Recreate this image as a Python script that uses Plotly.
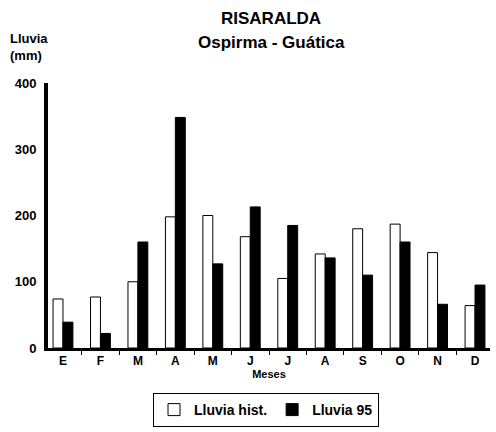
import plotly.graph_objects as go

meses = ["E", "F", "M", "A", "M ", "J", "J ", "A ", "S", "O", "N", "D"]
lluvia_hist = [74, 77, 100, 198, 200, 168, 105, 142, 180, 187, 144, 64]
lluvia_95 = [39, 22, 160, 348, 127, 213, 185, 136, 110, 160, 66, 95]
y_ticks = [0, 100, 200, 300, 400]

FONT = "Arial, Liberation Sans, sans-serif"

fig = go.Figure()
fig.add_trace(go.Bar(
    x=meses, y=lluvia_hist, name="<b>Lluvia hist.</b>",
    marker=dict(color="white", line=dict(color="black", width=1)),
))
fig.add_trace(go.Bar(
    x=meses, y=lluvia_95, name="<b>Lluvia 95</b>",
    marker=dict(color="black", line=dict(color="black", width=1)),
))

fig.update_layout(
    width=496, height=432,
    margin=dict(l=48, r=6, t=83, b=84, autoexpand=False),
    paper_bgcolor="white", plot_bgcolor="white",
    barmode="group", bargap=0.47, bargroupgap=0,
    font=dict(family=FONT, color="black"),
    showlegend=True,
    legend=dict(
        orientation="h", xref="container", yref="container",
        x=266 / 496, xanchor="center", y=1 - 393 / 432, yanchor="top",
        bordercolor="black", borderwidth=1, bgcolor="white",
        font=dict(size=14, family=FONT, color="black"),
        traceorder="normal",
    ),
    xaxis=dict(
        range=[-0.4, 11.4], automargin=False,
        showline=True, linecolor="black", linewidth=3,
        ticks="outside", tickson="boundaries", ticklen=4, tickcolor="black",
        tickfont=dict(size=12, family=FONT),
        tickvals=meses, ticktext=["<b>%s</b>" % m.strip() for m in meses],
        showgrid=False, zeroline=False,
        title=dict(text="<b>Meses</b>", font=dict(size=11, family=FONT), standoff=0),
    ),
    yaxis=dict(
        range=[0, 400], automargin=False,
        showline=True, linecolor="black", linewidth=4,
        tickvals=y_ticks, ticktext=["<b>%d</b>" % v for v in y_ticks],
        tickfont=dict(size=13, family=FONT),
        ticklabelstandoff=5,
        showgrid=False, zeroline=False,
    ),
    annotations=[
        dict(text="<b>RISARALDA</b>", xref="paper", yref="paper", x=0.505, y=(348 - 18) / 265,
             showarrow=False, font=dict(size=17, family=FONT), xanchor="center", yanchor="middle"),
        dict(text="<b>Ospirma - Guática</b>", xref="paper", yref="paper", x=0.505, y=(348 - 42) / 265,
             showarrow=False, font=dict(size=17, family=FONT), xanchor="center", yanchor="middle"),
        dict(text="<b>Lluvia<br>(mm)</b>", xref="paper", yref="paper", x=(8 - 48) / 442, y=(348 - 47) / 265,
             showarrow=False, font=dict(size=13, family=FONT), xanchor="left", yanchor="middle", align="left"),
    ],
)

fig.write_html(
    "out.html",
    config={"displayModeBar": False},
    post_script="document.body.style.margin='0';document.body.style.overflow='hidden';",
)
